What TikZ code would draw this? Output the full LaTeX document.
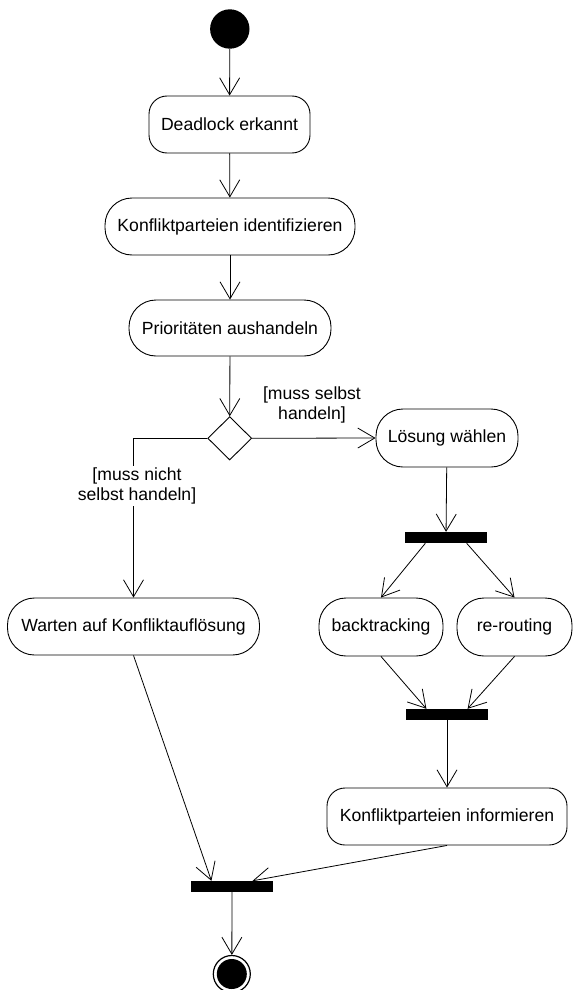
\documentclass[tikz,border=0pt]{standalone}
\usepackage{fontspec}
\setmainfont{Liberation Sans}
\usetikzlibrary{arrows.meta,shapes.geometric,calc}
\begin{document}
\begin{tikzpicture}[x=1pt,y=-1pt,
  font=\fontsize{17.6}{20.5}\selectfont,
  actbox/.style={draw, line width=0.9pt, align=center, inner sep=0pt, rounded corners=27pt},
  actsq/.style={draw, line width=0.9pt, align=center, inner sep=0pt, rounded corners=18pt},
  barbox/.style={fill=black, minimum width=82pt, minimum height=11pt, inner sep=0pt},
  arr/.style={-{Straight Barb[length=17pt,width=20pt]}, line width=0.8pt},
  guard/.style={align=center, inner sep=2pt}
]
\useasboundingbox (0,0) rectangle (573,990);

% nodes
\node[circle, fill=black, minimum size=39.4pt, inner sep=0pt] (start) at (229.8,29) {};
\node[actsq, minimum width=161pt, minimum height=57pt] (dead) at (229.5,124.5) {Deadlock erkannt};
\node[actbox, minimum width=250pt, minimum height=57pt] (ident) at (230,226.5) {Konfliktparteien identifizieren};
\node[actbox, minimum width=202pt, minimum height=56pt] (prio) at (230,328) {Prioritäten aushandeln};
\node[diamond, draw, line width=0.9pt, minimum width=44pt, minimum height=43.4pt, inner sep=0pt] (dec) at (229.7,438.3) {};
\node[actbox, minimum width=142pt, minimum height=58pt] (loes) at (447,438) {Lösung wählen};
\node[barbox] (bar1) at (446,537.5) {};
\node[actbox, minimum width=252pt, minimum height=57pt] (wart) at (133.5,626.5) {Warten auf Konfliktauflösung};
\node[actbox, minimum width=124pt, minimum height=58pt] (back) at (381,627) {backtracking};
\node[actbox, minimum width=115pt, minimum height=58pt] (rero) at (514.5,627) {re-routing};
\node[barbox] (bar2) at (447,714.5) {};
\node[actsq, minimum width=240pt, minimum height=57pt] (info) at (447,816.5) {Konfliktparteien informieren};
\node[barbox] (bar3) at (232,886.5) {};
\node[circle, draw, line width=1.2pt, minimum size=37pt, inner sep=0pt] (final) at (231.8,974) {};
\node[circle, fill=black, minimum size=30pt, inner sep=0pt] (finalin) at (final.center) {};

% anchor points on bars
\coordinate (b1l) at ($(bar1.south west)!0.25!(bar1.south east)$);
\coordinate (b1r) at ($(bar1.south west)!0.75!(bar1.south east)$);
\coordinate (b2l) at ($(bar2.north west)!0.25!(bar2.north east)$);
\coordinate (b2r) at ($(bar2.north west)!0.75!(bar2.north east)$);
\coordinate (b3l) at ($(bar3.north west)!0.25!(bar3.north east)$);
\coordinate (b3r) at ($(bar3.north west)!0.75!(bar3.north east)$);

% connectors
\draw[arr] (start) -- (dead);
\draw[arr] (dead) -- (ident);
\draw[arr] (ident) -- (prio);
\draw[arr] (prio) -- (dec);
\draw[arr] (dec.east) -- (loes.west);
\draw[arr] (dec.west) -| (wart.north);
\draw[arr] (loes) -- (bar1);
\draw[arr] (b1l) -- (back.north);
\draw[arr] (b1r) -- (rero.north);
\draw[arr] (back.south) -- (b2l);
\draw[arr] (rero.south) -- (b2r);
\draw[arr] (bar2) -- (info);
\draw[arr] (wart.south) -- (b3l);
\draw[arr] (info.south) -- (b3r);
\draw[arr] (bar3) -- (final);

% guards
\node[guard] (gyes) at (312,405) {[muss selbst\\handeln]};
\node[guard, fill=white] (gno) at (137,486) {[muss nicht\\selbst handeln]};
\end{tikzpicture}
\end{document}
